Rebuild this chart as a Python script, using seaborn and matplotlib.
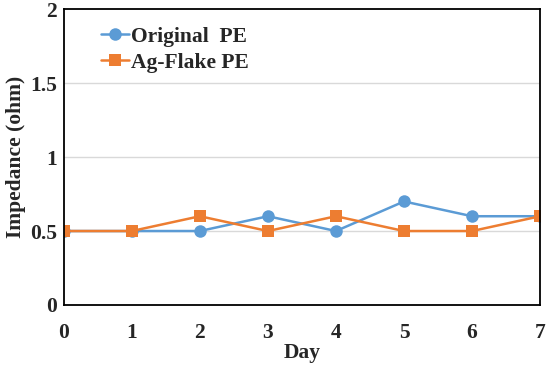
import numpy as np
import pandas as pd
import seaborn as sns
import matplotlib.pyplot as plt

days = [0, 1, 2, 3, 4, 5, 6, 7]
original_pe = [0.5, 0.5, 0.5, 0.6, 0.5, 0.7, 0.6, 0.6]
ag_flake_pe = [0.5, 0.5, 0.6, 0.5, 0.6, 0.5, 0.5, 0.6]
series_names = ['Original  PE', 'Ag-Flake PE']

df = pd.DataFrame({
    'Day': days * 2,
    'Impedance': original_pe + ag_flake_pe,
    'Series': [series_names[0]] * len(days) + [series_names[1]] * len(days),
})

sns.set_style('white')
plt.rcParams['font.family'] = ['Liberation Serif', 'DejaVu Serif']

fig = plt.figure(figsize=(5.5, 3.67), dpi=100)
ax = fig.add_axes([0.116, 0.169, 0.866, 0.806])

sns.lineplot(data=df, x='Day', y='Impedance', hue='Series', style='Series',
             palette=['#5B9BD5', '#ED7D31'], markers=['o', 's'], dashes=False,
             markersize=9, markeredgewidth=0, linewidth=1.8, ax=ax)

ax.set_xlim(0, 7)
ax.set_ylim(0, 2)
ax.set_xticks(days)
ax.set_yticks([0, 0.5, 1, 1.5, 2])
ax.set_yticklabels(['0', '0.5', '1', '1.5', '2'])
for y in [0.5, 1, 1.5]:
    ax.axhline(y, color='#D9D9D9', linewidth=1, zorder=0)

for s in ax.spines.values():
    s.set_color('black')
    s.set_linewidth(1.3)

fs = 15.5
ax.tick_params(axis='both', length=0, labelsize=fs)
ax.tick_params(axis='x', pad=13)
ax.tick_params(axis='y', pad=5)
for lab in ax.get_xticklabels() + ax.get_yticklabels():
    lab.set_fontweight('bold')

ax.set_xlabel('Day', fontsize=fs, fontweight='bold', labelpad=0)
ax.set_ylabel('Impedance (ohm)', fontsize=fs, fontweight='bold', labelpad=3)

leg = ax.legend(loc='upper left', bbox_to_anchor=(0.05, 0.985), frameon=False,
                prop={'weight': 'bold', 'size': 15.5}, handlelength=1.3,
                handletextpad=0.1, labelspacing=0.28, borderaxespad=0.2)

fig.savefig('out.png', dpi=100)
